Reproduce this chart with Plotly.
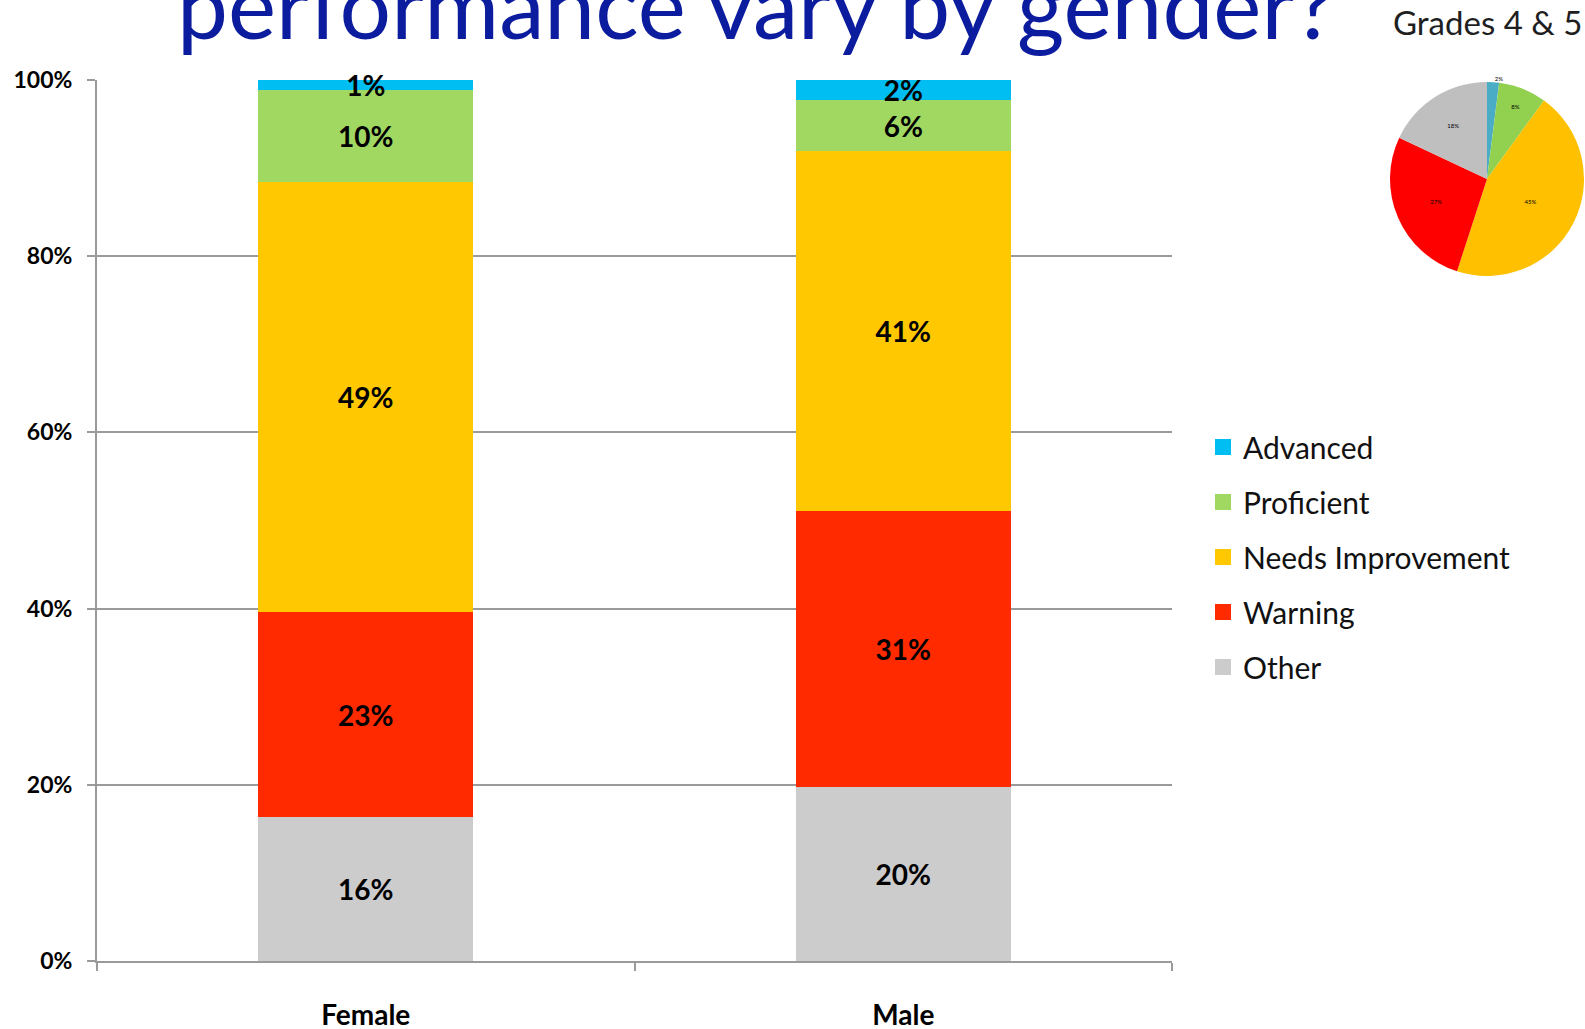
import plotly.graph_objects as go

# ---- data ----
genders = ["Female", "Male"]
levels = ["Other", "Warning", "Needs Improvement", "Proficient", "Advanced"]
other = [16.3, 19.8]
warning = [23.3, 31.3]
needs_impr = [48.8, 40.8]
proficient = [10.5, 5.8]
advanced = [1.1, 2.3]
other_lbl = ["16%", "20%"]
warning_lbl = ["23%", "31%"]
needs_lbl = ["49%", "41%"]
prof_lbl = ["10%", "6%"]
adv_lbl = ["1%", "2%"]

pie_labels = ["Advanced", "Proficient", "Needs Improvement", "Warning", "Other"]
pie_values = [2, 8, 45, 27, 18]

y_ticks = [0, 20, 40, 60, 80, 100]
y_tick_text = ["0%", "20%", "40%", "60%", "80%", "100%"]

bar_colors = {
    "Advanced": "#00BEF2",
    "Proficient": "#A1D862",
    "Needs Improvement": "#FFC800",
    "Warning": "#FF2A00",
    "Other": "#CCCCCC",
}
pie_colors = ["#4BACC6", "#92D050", "#FFC000", "#FF0000", "#BFBFBF"]

series = [
    ("Other", other, other_lbl),
    ("Warning", warning, warning_lbl),
    ("Needs Improvement", needs_impr, needs_lbl),
    ("Proficient", proficient, prof_lbl),
    ("Advanced", advanced, adv_lbl),
]

W, H = 1585, 1029
ML, MR, MT, MB = 97, 0, 80, 68
PW = W - ML - MR
PH = H - MT - MB

def px_x(px):
    return (px - ML) / PW

def px_y(py):
    return (H - MB - py) / PH

fig = go.Figure()

for name, vals, lbls in series:
    fig.add_trace(go.Bar(
        x=genders, y=vals, name=name, text=lbls,
        texttemplate="%{text}",
        textposition="inside", insidetextanchor="middle",
        textangle=0, constraintext="none", cliponaxis=False,
        textfont=dict(family="Lato", size=28, color="#000000", weight="bold"),
        marker=dict(color=bar_colors[name], line=dict(width=0)),
        showlegend=False, hoverinfo="skip",
    ))

# legend entries (square swatches)
for name in ["Advanced", "Proficient", "Needs Improvement", "Warning", "Other"]:
    fig.add_trace(go.Scatter(
        x=[None], y=[None], mode="markers", name=name, legendgroup=name,
        marker=dict(symbol="square", size=18, color=bar_colors[name]),
        showlegend=True,
    ))

fig.add_trace(go.Pie(
    labels=pie_labels, values=pie_values, sort=False, direction="clockwise",
    rotation=0, marker=dict(colors=pie_colors, line=dict(width=0)),
    textinfo="percent", textposition=["outside", "inside", "inside", "inside", "inside"],
    textfont=dict(family="Lato", size=6, color="#000000"),
    showlegend=False, hoverinfo="skip",
    domain=dict(x=[px_x(1389), 1.0], y=[px_y(276), px_y(82)]),
))

fig.update_layout(
    width=W, height=H,
    margin=dict(l=ML, r=MR, t=MT, b=MB, autoexpand=False),
    paper_bgcolor="white", plot_bgcolor="white",
    barmode="stack", bargap=0.6,
    font=dict(family="Lato", color="#000000"),
    legend=dict(
        xref="container", yref="container",
        x=1203 / W, y=1 - 421 / H, xanchor="left", yanchor="top",
        font=dict(family="Lato", size=30, color="#111111"),
        traceorder="grouped", tracegroupgap=13,
        itemwidth=30, bgcolor="rgba(0,0,0,0)",
    ),
    xaxis=dict(
        domain=[0, (1172 - ML) / PW], type="category",
        showline=True, linecolor="#9A9A9A", linewidth=2,
        ticks="outside", tickson="boundaries", ticklen=8, tickcolor="#9A9A9A", tickwidth=2,
        tickfont=dict(family="Lato", size=28, color="#000000", weight="bold"),
        ticklabelstandoff=28, showgrid=False, zeroline=False,
    ),
    yaxis=dict(
        range=[0, 100], tickmode="array", tickvals=y_ticks, ticktext=y_tick_text,
        showline=True, linecolor="#9A9A9A", linewidth=2,
        ticks="outside", ticklen=8, tickcolor="#9A9A9A", tickwidth=2,
        showgrid=True, gridcolor="#9A9A9A", gridwidth=2,
        tickfont=dict(family="Lato", size=23, color="#000000", weight="bold"),
        ticklabelstandoff=10, zeroline=False,
    ),
    annotations=[
        dict(text="performance vary by gender?", xref="paper", yref="paper",
             x=px_x(755.5), y=px_y(4), xanchor="center", yanchor="middle",
             showarrow=False, font=dict(family="Lato", size=91, color="#0C1C9E")),
        dict(text="Grades 4 & 5", xref="paper", yref="paper",
             x=px_x(1487), y=px_y(22), xanchor="center", yanchor="middle",
             showarrow=False, font=dict(family="Lato", size=33, color="#1F1F1F")),
    ],
)

fig.write_html(
    "out.html",
    config={"displayModeBar": False},
    post_script="document.body.style.margin='0px';document.body.style.overflow='hidden';",
)
